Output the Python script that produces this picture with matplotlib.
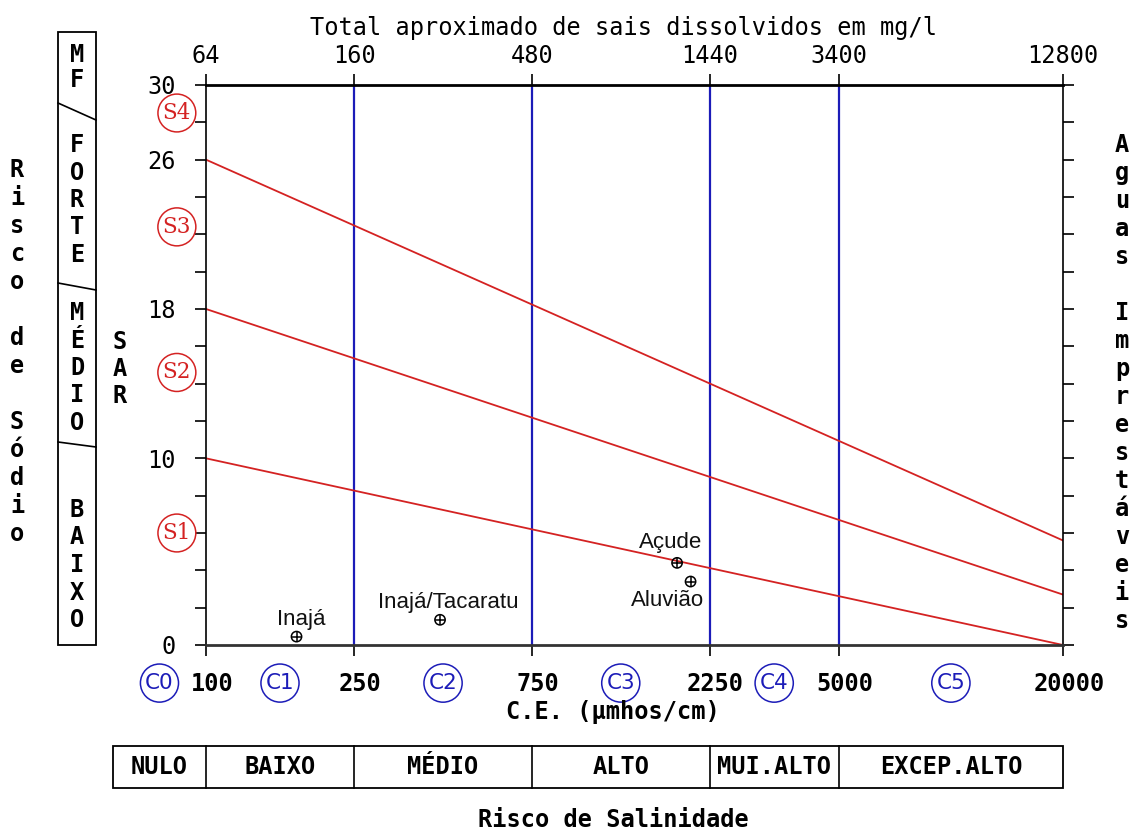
import matplotlib
matplotlib.use('Agg')
import matplotlib.pyplot as plt
import matplotlib.transforms as mtransforms
from matplotlib.lines import Line2D
from matplotlib.patches import Rectangle
from matplotlib.ticker import NullLocator

# --- DATA ---
ce_ticks = [100, 250, 750, 2250, 5000, 20000]
tds_labels = ['64', '160', '480', '1440', '3400', '12800']
class_bounds = [250, 750, 2250, 5000]
sar_ticks = list(range(0, 31, 2))
sar_labelled = [0, 10, 18, 26, 30]

# limit lines (SAR at CE=100 and CE=20000)
line_ce = [100, 20000]
line_s1_s2 = [10.0, 0.0]
line_s2_s3 = [18.0, 2.7]
line_s3_s4 = [26.0, 5.6]

# C classes and S classes
c_names = ['C0', 'C1', 'C2', 'C3', 'C4', 'C5']
c_centers = [75, 158, 433, 1299, 3354, 10000]
s_names = ['S4', 'S3', 'S2', 'S1']
s_centers = [28.5, 22.4, 14.6, 6.0]

# samples
sample_names = ['Inajá', 'Inajá/Tacaratu', 'Açude', 'Aluvião']
sample_ce = [175, 425, 1840, 2000]
sample_sar = [0.45, 1.35, 4.4, 3.4]
label_offsets = [(5, 17), (8, 17), (-6, 20), (-23, -19)]

# salinity risk table
risk_names = ['NULO', 'BAIXO', 'MÉDIO', 'ALTO', 'MUI.ALTO', 'EXCEP.ALTO']
risk_edges = [56.2, 100, 250, 750, 2250, 5000, 20000]

# --- FIGURE ---
W, H = 1133, 832
plt.rcParams['font.family'] = 'DejaVu Sans Mono'
fig = plt.figure(figsize=(W / 100, H / 100), dpi=100)


def fx(x):
    return x / W


def fy(y):
    return 1 - y / H


MONO = dict(family='DejaVu Sans Mono', fontsize=17)
BLUE = '#1c1cb8'
RED = '#d42222'

ax = fig.add_axes([fx(206), fy(645), (1063 - 206) / W, (645 - 85) / H])
ax.set_xscale('log')
ax.set_xlim(100, 20000)
ax.set_ylim(0, 30)

# blue class lines
for b in class_bounds:
    ax.axvline(b, color=BLUE, lw=1.6, zorder=1)

# red SAR limit lines
for vals in (line_s1_s2, line_s2_s3, line_s3_s4):
    ax.plot(line_ce, vals, color=RED, lw=1.3, zorder=2)

# samples
ax.scatter(sample_ce, sample_sar, s=55, facecolors='none', edgecolors='black', lw=1.1, zorder=4)
ax.scatter(sample_ce, sample_sar, s=50, marker='+', color='black', lw=1.1, zorder=4)
for name, x, y, off in zip(sample_names, sample_ce, sample_sar, label_offsets):
    ax.annotate(name, (x, y), xytext=off, textcoords='offset pixels',
                ha='center', va='center', family='Liberation Sans', fontsize=16, color='#111111')

# axes styling
for side in ('top', 'bottom'):
    ax.spines[side].set_linewidth(2.0)
for side in ('left', 'right'):
    ax.spines[side].set_linewidth(1.2)
ax.spines['bottom'].set_color('#333333')

ax.set_xticks(ce_ticks)
ax.set_xticklabels([str(v) for v in ce_ticks], fontweight='bold', **MONO)
ax.xaxis.set_minor_locator(NullLocator())
ax.tick_params(axis='x', direction='out', length=8, width=1.2, pad=11.5)
shift = mtransforms.ScaledTranslation(6 / 100, 0, fig.dpi_scale_trans)
for lbl in ax.get_xticklabels():
    lbl.set_transform(lbl.get_transform() + shift)

ax.set_yticks(sar_ticks)
ax.set_yticklabels([str(v) if v in sar_labelled else '' for v in sar_ticks], **MONO)
ax.tick_params(axis='y', direction='out', length=8, width=1.2, pad=14, right=True)

ax2 = ax.twiny()
ax2.set_xscale('log')
ax2.set_xlim(100, 20000)
ax2.set_xticks(ce_ticks)
ax2.set_xticklabels(tds_labels, **MONO)
ax2.xaxis.set_minor_locator(NullLocator())
ax2.tick_params(axis='x', direction='out', length=8, width=1.2, pad=4.5)
for sp in ax2.spines.values():
    sp.set_visible(False)

# C and S circles
tr_c = mtransforms.blended_transform_factory(ax.transData, ax.transAxes)
for name, x in zip(c_names, c_centers):
    ax.text(x, -0.068, name, transform=tr_c, ha='center', va='center',
            family='DejaVu Sans', fontsize=15.5, color=BLUE, clip_on=False,
            bbox=dict(boxstyle='circle,pad=0.22', fc='white', ec=BLUE, lw=1.1))
tr_s = mtransforms.blended_transform_factory(ax.transAxes, ax.transData)
for name, y in zip(s_names, s_centers):
    ax.text(-0.034, y, name, transform=tr_s, ha='center', va='center',
            family='DejaVu Serif', fontsize=15.5, color=RED, clip_on=False,
            bbox=dict(boxstyle='circle,pad=0.22', fc='white', ec=RED, lw=1.1))

# titles
fig.text(fx(624), fy(28), 'Total aproximado de sais dissolvidos em mg/l', ha='center', va='center', **MONO)
fig.text(fx(613), fy(712), 'C.E. (µmhos/cm)', ha='center', va='center', fontweight='bold', **MONO)
fig.text(fx(613), fy(820), 'Risco de Salinidade', ha='center', va='center', fontweight='bold', **MONO)


def stack(text, x, y0, step, **kw):
    for i, ch in enumerate(text):
        if ch != ' ':
            fig.text(fx(x), fy(y0 + i * step), ch, ha='center', va='center', **kw)


stack('Risco de Sódio', 17, 170, 28, fontweight='bold', **MONO)
stack('Aguas Imprestáveis', 1122, 145, 28, fontweight='bold', **MONO)
stack('SAR', 120, 342, 27, fontweight='bold', **MONO)

# sodium risk box on the left
fig.add_artist(Rectangle((fx(58), fy(645)), (96 - 58) / W, (645 - 32) / H,
                         transform=fig.transFigure, fill=False, ec='black', lw=1.3))
for (y1, y2) in [(103, 120), (283, 290), (442, 447)]:
    fig.add_artist(Line2D([fx(58), fx(96)], [fy(y1), fy(y2)], transform=fig.transFigure,
                          color='black', lw=1.2))
stack('MF', 77, 55, 25, fontweight='bold', **MONO)
stack('FORTE', 77, 145, 27.5, fontweight='bold', **MONO)
stack('MÉDIO', 77, 313, 27.5, fontweight='bold', **MONO)
stack('BAIXO', 77, 510, 27.5, fontweight='bold', **MONO)

# salinity risk table
axt = fig.add_axes([fx(206), fy(788), (1063 - 206) / W, (788 - 746) / H])
axt.set_xscale('log')
axt.set_xlim(100, 20000)
axt.set_ylim(0, 1)
axt.axis('off')
axt.add_patch(Rectangle((risk_edges[0], 0), risk_edges[-1] - risk_edges[0], 1,
                        fill=False, ec='black', lw=1.3, clip_on=False))
for e in risk_edges[1:-1]:
    axt.plot([e, e], [0, 1], color='black', lw=1.2, clip_on=False)
for name, a, b in zip(risk_names, risk_edges[:-1], risk_edges[1:]):
    axt.text((a * b) ** 0.5, 0.5, name, ha='center', va='center', fontweight='bold',
             clip_on=False, **MONO)

fig.savefig('out.png', dpi=100, facecolor='white')
